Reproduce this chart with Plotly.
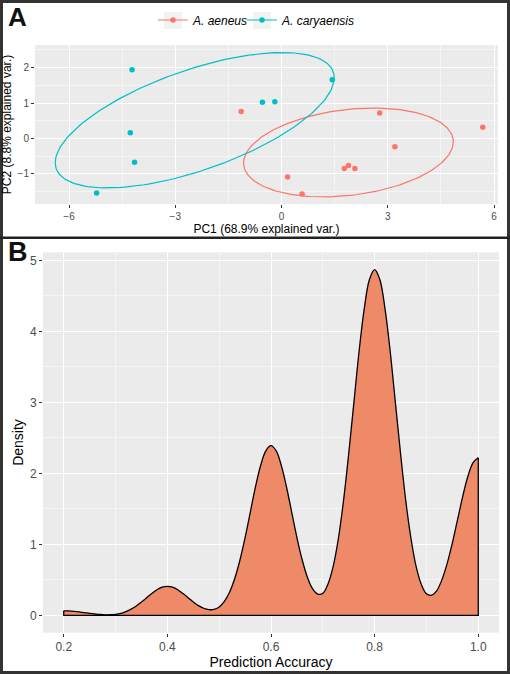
import numpy as np
import plotly.graph_objects as go

# ---------------- Data ----------------
# Panel A: PCA scores
species = ["A. aeneus", "A. caryaensis"]
aeneus_pc1 = [-1.14, 2.77, 5.68, 3.20, 1.77, 1.89, 2.07, 0.17, 0.58]
aeneus_pc2 = [0.76, 0.72, 0.32, -0.23, -0.85, -0.76, -0.85, -1.09, -1.57]
caryaensis_pc1 = [-4.22, 1.43, -0.54, -0.19, -4.27, -4.15, -5.22]
caryaensis_pc2 = [1.94, 1.66, 1.02, 1.04, 0.16, -0.67, -1.54]
species_colors = ["#F8766D", "#00BFC4"]
ellipse_prob = 0.68

# Panel B: density of prediction accuracy
accuracy = [0.20, 0.21, 0.22, 0.23, 0.24, 0.25, 0.26, 0.27, 0.28, 0.29,
            0.30, 0.31, 0.32, 0.33, 0.34, 0.35, 0.36, 0.37, 0.38, 0.39,
            0.40, 0.41, 0.42, 0.43, 0.44, 0.45, 0.46, 0.47, 0.48, 0.49,
            0.50, 0.51, 0.52, 0.53, 0.54, 0.55, 0.56, 0.57, 0.58, 0.59,
            0.60, 0.61, 0.62, 0.63, 0.64, 0.65, 0.66, 0.67, 0.68, 0.69,
            0.70, 0.71, 0.72, 0.73, 0.74, 0.75, 0.76, 0.77, 0.78, 0.79,
            0.80, 0.81, 0.82, 0.83, 0.84, 0.85, 0.86, 0.87, 0.88, 0.89,
            0.90, 0.91, 0.92, 0.93, 0.94, 0.95, 0.96, 0.97, 0.98, 0.99,
            1.00]
density = [0.065, 0.063, 0.057, 0.049, 0.039, 0.030, 0.021, 0.013, 0.008, 0.009,
           0.015, 0.028, 0.054, 0.088, 0.133, 0.188, 0.249, 0.309, 0.362, 0.397,
           0.410, 0.397, 0.362, 0.309, 0.250, 0.190, 0.138, 0.101, 0.082, 0.084,
           0.118, 0.198, 0.326, 0.519, 0.777, 1.094, 1.450, 1.810, 2.112, 2.318,
           2.390, 2.316, 2.109, 1.805, 1.452, 1.098, 0.787, 0.542, 0.377, 0.301,
           0.310, 0.442, 0.690, 1.080, 1.620, 2.280, 3.000, 3.720, 4.320, 4.730,
           4.870, 4.730, 4.320, 3.720, 3.000, 2.280, 1.620, 1.090, 0.690, 0.439,
           0.305, 0.285, 0.350, 0.505, 0.732, 1.020, 1.348, 1.677, 1.959, 2.152,
           2.220]
density_fill = "#EF8A68"

# ---------------- Helpers ----------------
W, H = 510, 674
def px_x(p):
    return p / W
def px_y(p):
    return 1 - p / H

def ellipse(xs, ys, prob, n=200):
    pts = np.column_stack([xs, ys])
    mu = pts.mean(axis=0)
    sigma = np.cov(pts, rowvar=False)
    ed = np.sqrt(-2 * np.log(1 - prob))  # qchisq(prob, df=2)
    theta = np.linspace(-np.pi, np.pi, n)
    circle = np.column_stack([np.cos(theta), np.sin(theta)])
    L = np.linalg.cholesky(sigma)
    e = circle @ L.T * ed + mu
    return e[:, 0], e[:, 1]

fig = go.Figure()

groups = [(aeneus_pc1, aeneus_pc2), (caryaensis_pc1, caryaensis_pc2)]
legend_ids = ["legend", "legend2"]
for name, (gx, gy), col, lg in zip(species, groups, species_colors, legend_ids):
    ex, ey = ellipse(gx, gy, ellipse_prob)
    fig.add_trace(go.Scatter(x=ex, y=ey, mode="lines", line=dict(color=col, width=1.2),
                             showlegend=False, hoverinfo="skip", xaxis="x", yaxis="y"))
    fig.add_trace(go.Scatter(x=gx, y=gy, mode="markers", marker=dict(color=col, size=5.5),
                             showlegend=False, name=name, xaxis="x", yaxis="y"))
    fig.add_trace(go.Scatter(x=[None], y=[None], mode="lines+markers", name=name,
                             line=dict(color=col, width=1.2), marker=dict(color=col, size=5.5),
                             legend=lg, xaxis="x", yaxis="y"))

# Density panel
fig.add_trace(go.Scatter(x=accuracy, y=density, mode="lines", fill="tozeroy",
                         fillcolor=density_fill, line=dict(color="black", width=1.3, shape="spline"),
                         showlegend=False, xaxis="x2", yaxis="y2"))
fig.add_trace(go.Scatter(x=[accuracy[0], accuracy[0], accuracy[-1], accuracy[-1]],
                         y=[density[0], 0, 0, density[-1]], mode="lines",
                         line=dict(color="black", width=1.3), showlegend=False,
                         hoverinfo="skip", xaxis="x2", yaxis="y2"))

tick_col = "#4D4D4D"
axis_common = dict(showgrid=True, gridcolor="white", gridwidth=1.1, zeroline=False,
                   ticks="outside", ticklen=3, tickcolor="#333333", tickwidth=1,
                   showline=False)
font_family = "Liberation Sans, Arial, sans-serif"
legend_common = dict(orientation="h", xanchor="left", y=px_y(20), yanchor="middle",
                     font=dict(size=12, style="italic", color="black"), itemwidth=30,
                     bgcolor="rgba(0,0,0,0)")

fig.update_layout(
    width=W, height=H,
    margin=dict(l=0, r=0, t=0, b=0),
    paper_bgcolor="white",
    plot_bgcolor="#EBEBEB",
    font=dict(family=font_family, color="black"),
    showlegend=True,
    legend=dict(x=px_x(153), **legend_common),
    legend2=dict(x=px_x(242), **legend_common),
    xaxis=dict(domain=[px_x(35), px_x(498)], range=[-6.96, 6.11], anchor="y",
               tick0=0, dtick=3, tickfont=dict(size=10, color=tick_col),
               minor=dict(tick0=0, dtick=1.5, showgrid=True, gridcolor="#F5F5F5", gridwidth=0.5, ticks=""),
               title=dict(text="PC1 (68.9% explained var.)", font=dict(size=12), standoff=3),
               **axis_common),
    yaxis=dict(domain=[px_y(204), px_y(45)], range=[-1.85, 2.64], anchor="x",
               tick0=0, dtick=1, tickfont=dict(size=10, color=tick_col),
               minor=dict(tick0=0, dtick=0.5, showgrid=True, gridcolor="#F5F5F5", gridwidth=0.5, ticks=""),
               title=dict(text="PC2 (8.8% explained var.)", font=dict(size=12), standoff=3),
               **axis_common),
    xaxis2=dict(domain=[px_x(43), px_x(499)], range=[0.16, 1.04], anchor="y2",
                tick0=0.2, dtick=0.2, tickformat=".1f", tickfont=dict(size=12, color=tick_col),
                minor=dict(tick0=0.2, dtick=0.1, showgrid=True, gridcolor="#F5F5F5", gridwidth=0.5, ticks=""),
                title=dict(text="Prediction Accuracy", font=dict(size=14), standoff=1),
                **axis_common),
    yaxis2=dict(domain=[px_y(632.7), px_y(252.3)], range=[-0.2435, 5.1135], anchor="x2",
                tick0=0, dtick=1, tickfont=dict(size=12, color=tick_col),
                minor=dict(tick0=0, dtick=0.5, showgrid=True, gridcolor="#F5F5F5", gridwidth=0.5, ticks=""),
                title=dict(text="Density", font=dict(size=14), standoff=3),
                **axis_common),
    shapes=[
        dict(type="rect", xref="paper", yref="paper", x0=px_x(1.5), x1=px_x(508.5),
             y0=px_y(672.5), y1=px_y(1.5), line=dict(color="#333333", width=3)),
        dict(type="line", xref="paper", yref="paper", x0=0, x1=1,
             y0=px_y(237.7), y1=px_y(237.7), line=dict(color="#222222", width=2.5)),
        dict(type="rect", xref="paper", yref="paper", x0=px_x(164), x1=px_x(182),
             y0=px_y(29), y1=px_y(12), fillcolor="#F2F2F2", line=dict(width=0), layer="below"),
        dict(type="rect", xref="paper", yref="paper", x0=px_x(253), x1=px_x(271),
             y0=px_y(29), y1=px_y(12), fillcolor="#F2F2F2", line=dict(width=0), layer="below"),
    ],
    annotations=[
        dict(text="<b>A</b>", x=px_x(6), y=px_y(17), xref="paper", yref="paper",
             xanchor="left", yanchor="middle", showarrow=False,
             font=dict(size=26, color="#111111", family=font_family)),
        dict(text="<b>B</b>", x=px_x(6), y=px_y(252), xref="paper", yref="paper",
             xanchor="left", yanchor="middle", showarrow=False,
             font=dict(size=27, color="#111111", family=font_family)),
    ],
)

fig.write_html(
    "out.html",
    config={"displayModeBar": False},
    post_script="document.body.style.margin='0';document.body.style.padding='0';"
                "document.body.style.overflow='hidden';",
)
